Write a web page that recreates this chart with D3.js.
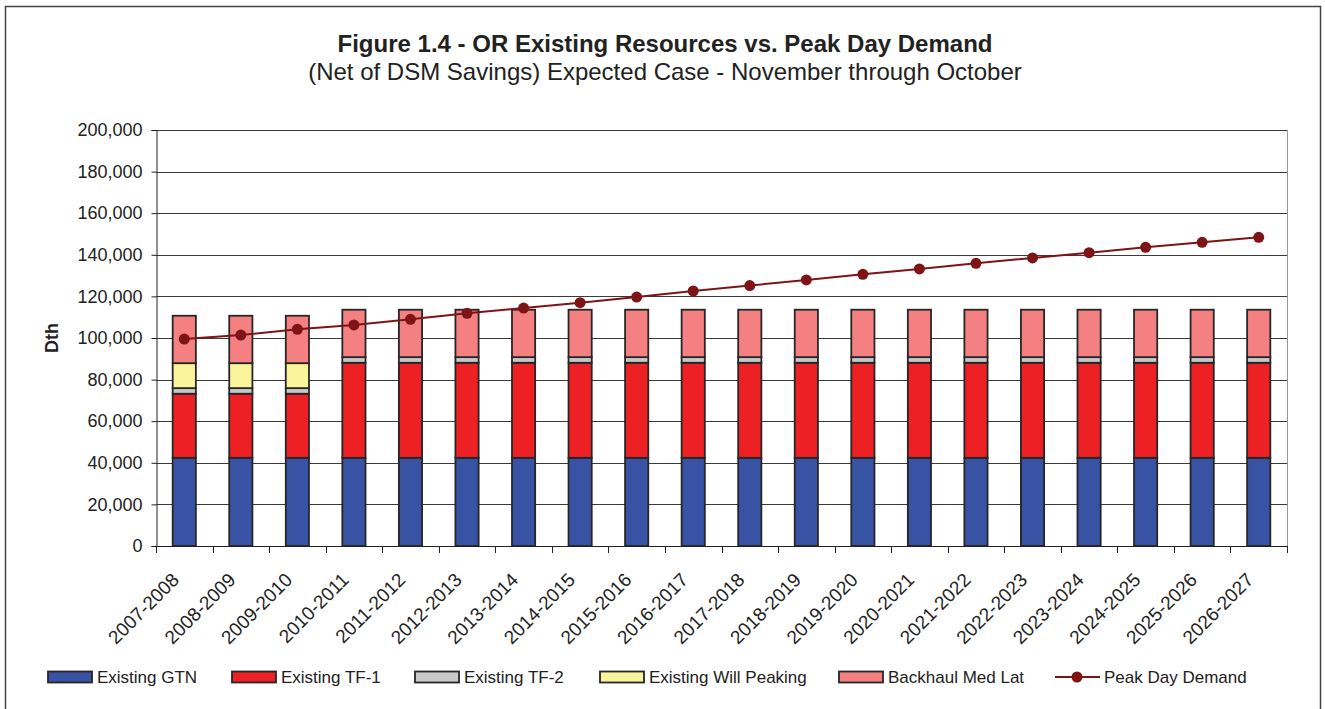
<!DOCTYPE html>
<html>
<head>
<meta charset="utf-8">
<script src="https://cdn.jsdelivr.net/npm/d3@7"></script>
<style>
  html, body { margin: 0; padding: 0; background: #fff; }
  svg { display: block; font-family: "Liberation Sans", Arial, sans-serif; }
</style>
</head>
<body>
<div id="chart"></div>
<script>
// values
const years = ["2007-2008", "2008-2009", "2009-2010", "2010-2011", "2011-2012", "2012-2013", "2013-2014",
  "2014-2015", "2015-2016", "2016-2017", "2017-2018", "2018-2019", "2019-2020", "2020-2021",
  "2021-2022", "2022-2023", "2023-2024", "2024-2025", "2025-2026", "2026-2027"];

const existingGTN = [42400, 42400, 42400, 42400, 42400, 42400, 42400, 42400, 42400, 42400,
  42400, 42400, 42400, 42400, 42400, 42400, 42400, 42400, 42400, 42400];
const existingTF1 = [30800, 30800, 30800, 45700, 45700, 45700, 45700, 45700, 45700, 45700,
  45700, 45700, 45700, 45700, 45700, 45700, 45700, 45700, 45700, 45700];
const existingTF2 = [2700, 2700, 2700, 2700, 2700, 2700, 2700, 2700, 2700, 2700,
  2700, 2700, 2700, 2700, 2700, 2700, 2700, 2700, 2700, 2700];
const willPeaking = [12000, 12000, 12000, 0, 0, 0, 0, 0, 0, 0,
  0, 0, 0, 0, 0, 0, 0, 0, 0, 0];
const backhaulMedLat = [22800, 22800, 22800, 22800, 22800, 22800, 22800, 22800, 22800, 22800,
  22800, 22800, 22800, 22800, 22800, 22800, 22800, 22800, 22800, 22800];
const peakDayDemand = [99500, 101400, 104200, 106300, 109000, 111900, 114400, 117000, 119700, 122600,
  125200, 127900, 130600, 133200, 135900, 138500, 141000, 143600, 146000, 148400];

const yTicks = [0, 20000, 40000, 60000, 80000, 100000, 120000, 140000, 160000, 180000, 200000];

const seriesNames = ["Existing GTN", "Existing TF-1", "Existing TF-2", "Existing Will Peaking", "Backhaul Med Lat"];
const seriesColors = ["#3953a4", "#ed2024", "#c9c9c9", "#faf49b", "#f48081"];
const lineColor = "#7f1416";

// build rows for d3.stack
const rows = years.map((y, i) => ({
  year: y,
  "Existing GTN": existingGTN[i],
  "Existing TF-1": existingTF1[i],
  "Existing TF-2": existingTF2[i],
  "Existing Will Peaking": willPeaking[i],
  "Backhaul Med Lat": backhaulMedLat[i]
}));

const width = 1325, height = 709;
const plot = { left: 156, right: 1287, top: 130, bottom: 546 };

const svg = d3.select("#chart").append("svg")
  .attr("width", width)
  .attr("height", height);

// outer frame
svg.append("rect")
  .attr("x", 5.5).attr("y", 6.5)
  .attr("width", 1315).attr("height", 710)
  .attr("fill", "none")
  .attr("stroke", "#444")
  .attr("stroke-width", 1.5);

// titles
svg.append("text")
  .attr("x", 665).attr("y", 52)
  .attr("text-anchor", "middle")
  .attr("font-size", 24).attr("font-weight", "bold")
  .attr("fill", "#222")
  .text("Figure 1.4 - OR Existing Resources vs. Peak Day Demand");
svg.append("text")
  .attr("x", 665).attr("y", 80)
  .attr("text-anchor", "middle")
  .attr("font-size", 24)
  .attr("fill", "#222")
  .text("(Net of DSM Savings) Expected Case - November through October");

const x = d3.scaleBand()
  .domain(years)
  .range([plot.left, plot.right]);

const y = d3.scaleLinear()
  .domain([0, 200000])
  .range([plot.bottom, plot.top]);

// gridlines
svg.append("g")
  .selectAll("line")
  .data(yTicks.filter(d => d > 0))
  .join("line")
  .attr("x1", plot.left).attr("x2", plot.right)
  .attr("y1", d => Math.round(y(d)) + 0.5).attr("y2", d => Math.round(y(d)) + 0.5)
  .attr("stroke", "#3a3a3a")
  .attr("stroke-width", 1);

// right plot border
svg.append("line")
  .attr("x1", plot.right + 0.5).attr("x2", plot.right + 0.5)
  .attr("y1", plot.top).attr("y2", plot.bottom)
  .attr("stroke", "#999");

// y axis
const yAxis = svg.append("g")
  .attr("transform", `translate(${plot.left + 0.5},0)`)
  .call(d3.axisLeft(y).tickValues(yTicks).tickSize(5).tickPadding(9)
    .tickFormat(d3.format(",")));
yAxis.selectAll("line, path").attr("stroke", "#222");
yAxis.selectAll("text").attr("font-size", 18).attr("fill", "#222")
  .attr("font-family", "Liberation Sans, Arial, sans-serif");

svg.append("text")
  .attr("transform", `translate(58,${(plot.top + plot.bottom) / 2}) rotate(-90)`)
  .attr("text-anchor", "middle")
  .attr("font-size", 18).attr("font-weight", "bold")
  .attr("fill", "#222")
  .text("Dth");

// stacked bars
const stack = d3.stack().keys(seriesNames);
const stacked = stack(rows);
const barW = x.bandwidth() * 0.41;

svg.append("g")
  .selectAll("g")
  .data(stacked)
  .join("g")
  .attr("fill", (d, i) => seriesColors[i])
  .selectAll("rect")
  .data(d => d.filter(s => s[1] - s[0] > 0))
  .join("rect")
  .attr("x", d => x(d.data.year) + (x.bandwidth() - barW) / 2)
  .attr("width", barW)
  .attr("y", d => y(d[1]))
  .attr("height", d => y(d[0]) - y(d[1]))
  .attr("stroke", "#262626")
  .attr("stroke-width", 1.8);

// x axis: line with ticks at category boundaries
svg.append("line")
  .attr("x1", plot.left).attr("x2", plot.right)
  .attr("y1", plot.bottom + 0.5).attr("y2", plot.bottom + 0.5)
  .attr("stroke", "#222");
svg.append("g")
  .selectAll("line")
  .data(years.concat(["end"]))
  .join("line")
  .attr("x1", (d, i) => Math.round(plot.left + i * x.step()) + 0.5)
  .attr("x2", (d, i) => Math.round(plot.left + i * x.step()) + 0.5)
  .attr("y1", plot.bottom).attr("y2", plot.bottom + 7)
  .attr("stroke", "#222");

svg.append("g")
  .selectAll("text")
  .data(years)
  .join("text")
  .attr("transform", d => `translate(${x(d) + x.bandwidth() / 2 - 4},${plot.bottom + 35}) rotate(-45)`)
  .attr("text-anchor", "end")
  .attr("font-size", 19)
  .attr("fill", "#222")
  .text(d => d);

// peak day demand line
const line = d3.line()
  .x((d, i) => x(years[i]) + x.bandwidth() / 2)
  .y(d => y(d));

svg.append("path")
  .datum(peakDayDemand)
  .attr("d", line)
  .attr("fill", "none")
  .attr("stroke", lineColor)
  .attr("stroke-width", 2);

svg.append("g")
  .selectAll("circle")
  .data(peakDayDemand)
  .join("circle")
  .attr("cx", (d, i) => x(years[i]) + x.bandwidth() / 2)
  .attr("cy", d => y(d))
  .attr("r", 5.5)
  .attr("fill", lineColor);

// legend
const legendX = [48, 232, 415, 600, 839];
const legend = svg.append("g").attr("transform", "translate(0,677)");
seriesNames.forEach((name, i) => {
  legend.append("rect")
    .attr("x", legendX[i]).attr("y", -5.5)
    .attr("width", 44).attr("height", 11)
    .attr("fill", seriesColors[i])
    .attr("stroke", "#262626")
    .attr("stroke-width", 1.8);
  legend.append("text")
    .attr("x", legendX[i] + 49).attr("y", 6)
    .attr("font-size", 17).attr("fill", "#222")
    .text(name);
});
legend.append("line")
  .attr("x1", 1055).attr("x2", 1100)
  .attr("y1", 0).attr("y2", 0)
  .attr("stroke", lineColor).attr("stroke-width", 2);
legend.append("circle")
  .attr("cx", 1077).attr("cy", 0).attr("r", 5.5)
  .attr("fill", lineColor);
legend.append("text")
  .attr("x", 1104).attr("y", 6)
  .attr("font-size", 17).attr("fill", "#222")
  .text("Peak Day Demand");
</script>
</body>
</html>
